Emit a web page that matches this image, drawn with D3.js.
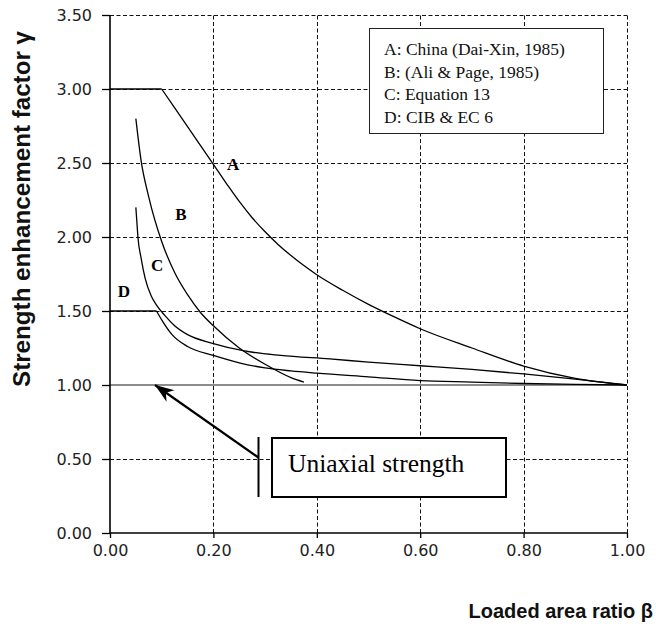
<!DOCTYPE html>
<html>
<head>
<meta charset="utf-8">
<script src="https://cdn.jsdelivr.net/npm/d3@7"></script>
<style>
  html, body { margin: 0; padding: 0; background: #fff; }
  svg { display: block; }
</style>
</head>
<body>
<div id="chart"></div>
<script>
// ---- data ----
const xTicks = [0, 0.2, 0.4, 0.6, 0.8, 1.0];
const yTicks = [0, 0.5, 1.0, 1.5, 2.0, 2.5, 3.0, 3.5];

// A: China (Dai-Xin, 1985)
const curveAFlat = [[0, 3.0], [0.1, 3.0]];
const curveA = [[0.1, 3.0], [0.15, 2.745], [0.2, 2.49], [0.225, 2.363], [0.25, 2.24], [0.275, 2.13],
  [0.3, 2.035], [0.325, 1.95], [0.35, 1.875], [0.375, 1.807], [0.4, 1.745], [0.45, 1.64],
  [0.5, 1.545], [0.55, 1.46], [0.6, 1.38], [0.7, 1.25], [0.8, 1.128], [0.9, 1.045], [1.0, 1.0]];
// B: (Ali & Page, 1985)
const curveB = [[0.05, 2.8], [0.06, 2.52], [0.075, 2.27], [0.1, 1.97], [0.125, 1.76], [0.15, 1.61],
  [0.175, 1.49], [0.2, 1.40], [0.25, 1.25], [0.3, 1.14], [0.35, 1.05], [0.375, 1.02]];
// C: Equation 13
const curveC = [[0.05, 2.2], [0.052, 2.1], [0.054, 2.0], [0.06, 1.86], [0.068, 1.72], [0.08, 1.6],
  [0.09, 1.54], [0.106, 1.47], [0.125, 1.40], [0.15, 1.34], [0.2, 1.28], [0.26, 1.23],
  [0.33, 1.20], [0.425, 1.176], [0.5, 1.155], [0.6, 1.13], [0.7, 1.105], [0.8, 1.075],
  [0.9, 1.04], [1.0, 1.0]];
// D: CIB & EC 6
const curveDFlat = [[0, 1.5], [0.09, 1.5]];
const curveD = [[0.09, 1.5], [0.1, 1.44], [0.12, 1.34], [0.15, 1.26], [0.2, 1.20], [0.25, 1.15],
  [0.3, 1.115], [0.35, 1.095], [0.4, 1.08], [0.5, 1.055], [0.6, 1.03], [0.7, 1.02],
  [0.8, 1.01], [0.9, 1.004], [1.0, 1.0]];

const curveLabels = [["A", 0.238, 2.48], ["B", 0.137, 2.14], ["C", 0.091, 1.80], ["D", 0.027, 1.62]];
const legendLines = ["A: China (Dai-Xin, 1985)", "B: (Ali & Page, 1985)", "C: Equation 13", "D: CIB & EC 6"];
const uniaxialLabel = "Uniaxial strength";
const uniaxialArrow = [[0.287, 0.51], [0.087, 1.0]];

// ---- chart ----
const W = 656, H = 628;
const svg = d3.select("#chart").append("svg").attr("width", W).attr("height", H);

const x = d3.scaleLinear().domain([0, 1]).range([110, 627]);
const y = d3.scaleLinear().domain([0, 3.5]).range([533, 15]);

const tickFont = "'DejaVu Sans', sans-serif";
const serif = "'Liberation Serif', 'Times New Roman', serif";
const px = v => Math.round(v) + 0.5;

// gridlines
const grid = svg.append("g");
grid.selectAll("line.h").data(yTicks.filter(v => v > 0 && v !== 1.0)).enter().append("line")
  .attr("x1", x(0)).attr("x2", x(1)).attr("y1", d => px(y(d))).attr("y2", d => px(y(d)))
  .attr("stroke", "#111").attr("stroke-width", 1).attr("stroke-dasharray", "4,2.5");
grid.selectAll("line.v").data(xTicks.filter(v => v > 0)).enter().append("line")
  .attr("x1", d => px(x(d))).attr("x2", d => px(x(d))).attr("y1", y(0)).attr("y2", y(3.5))
  .attr("stroke", "#111").attr("stroke-width", 1).attr("stroke-dasharray", "4,2.5");
// uniaxial reference line at 1.0
grid.append("line")
  .attr("x1", x(0)).attr("x2", x(1)).attr("y1", y(1)).attr("y2", y(1))
  .attr("stroke", "#666").attr("stroke-width", 1.6);

// axes
const yAxis = d3.axisLeft(y).tickValues(yTicks).tickSize(8).tickPadding(10)
  .tickFormat(d3.format(".2f"));
const gy = svg.append("g").attr("transform", `translate(${x(0)},0)`).call(yAxis);
const xAxis = d3.axisBottom(x).tickValues(xTicks).tickSize(5).tickPadding(7)
  .tickFormat(d3.format(".2f"));
const gx = svg.append("g").attr("transform", `translate(0,${y(0)})`).call(xAxis);
[gx, gy].forEach(g => {
  g.select(".domain").attr("stroke", "#000").attr("stroke-width", 1.6);
  g.selectAll(".tick line").attr("stroke", "#000").attr("stroke-width", 1.3);
  g.selectAll(".tick text").attr("fill", "#222").style("font-family", tickFont).style("font-size", "16px");
});
gy.select(".domain").attr("d", `M0,${y(3.5)}V${y(0)}`);
gx.select(".domain").attr("d", `M${x(0)},0H${x(1)}`);

// curves
const smooth = d3.line().x(d => x(d[0])).y(d => y(d[1])).curve(d3.curveMonotoneX);
const straight = d3.line().x(d => x(d[0])).y(d => y(d[1]));
const curves = svg.append("g").attr("fill", "none").attr("stroke", "#000").attr("stroke-width", 1.3);
[curveAFlat, curveDFlat].forEach(c => curves.append("path").attr("d", straight(c)));
[curveA, curveB, curveC, curveD].forEach(c => curves.append("path").attr("d", smooth(c)));

// curve labels
svg.append("g").selectAll("text").data(curveLabels).enter().append("text")
  .attr("x", d => x(d[1])).attr("y", d => y(d[2]))
  .attr("text-anchor", "middle").attr("dominant-baseline", "middle")
  .style("font-family", serif).style("font-weight", "bold").style("font-size", "17px")
  .text(d => d[0]);

// legend box
const lg = svg.append("g");
lg.append("rect").attr("x", 369.5).attr("y", 28.5).attr("width", 234).attr("height", 105)
  .attr("fill", "#fff").attr("stroke", "#222").attr("stroke-width", 1);
lg.selectAll("text").data(legendLines).enter().append("text")
  .attr("x", 384).attr("y", (d, i) => 55 + i * 22.5)
  .style("font-family", serif).style("font-size", "17.5px").attr("fill", "#111")
  .text(d => d);

// uniaxial strength annotation
const ua = svg.append("g");
ua.append("rect").attr("x", 272).attr("y", 438).attr("width", 234).attr("height", 59)
  .attr("fill", "#fff").attr("stroke", "#000").attr("stroke-width", 2);
ua.append("text").attr("x", 288).attr("y", 472)
  .style("font-family", serif).style("font-size", "25.5px").attr("fill", "#000")
  .text(uniaxialLabel);
ua.append("line").attr("x1", 258.5).attr("x2", 258.5).attr("y1", 437).attr("y2", 497)
  .attr("stroke", "#000").attr("stroke-width", 2);
ua.append("line")
  .attr("x1", x(uniaxialArrow[0][0])).attr("y1", y(uniaxialArrow[0][1]))
  .attr("x2", x(uniaxialArrow[1][0])).attr("y2", y(uniaxialArrow[1][1]))
  .attr("stroke", "#000").attr("stroke-width", 2.2);
(function () {
  const x1 = x(uniaxialArrow[0][0]), y1 = y(uniaxialArrow[0][1]);
  const x2 = x(uniaxialArrow[1][0]), y2 = y(uniaxialArrow[1][1]);
  const a = Math.atan2(y2 - y1, x2 - x1), L = 19, w = 7;
  const bx = x2 - L * Math.cos(a), by = y2 - L * Math.sin(a);
  const qx = -Math.sin(a) * w, qy = Math.cos(a) * w;
  ua.append("path").attr("d", `M${x2},${y2}L${bx + qx},${by + qy}L${x2 - 0.7 * L * Math.cos(a)},${y2 - 0.7 * L * Math.sin(a)}L${bx - qx},${by - qy}Z`)
    .attr("fill", "#000");
})();

// axis titles
svg.append("text").attr("transform", "translate(30,209) rotate(-90)")
  .attr("text-anchor", "middle")
  .attr("textLength", 356).attr("lengthAdjust", "spacingAndGlyphs")
  .style("font-family", "'Liberation Sans', Arial, sans-serif").style("font-size", "24px")
  .style("font-weight", "bold").attr("fill", "#111")
  .text("Strength enhancement factor γ");
svg.append("text").attr("x", 653).attr("y", 618).attr("text-anchor", "end")
  .style("font-family", "'Liberation Sans', Arial, sans-serif").style("font-size", "20px")
  .style("font-weight", "bold").attr("fill", "#111")
  .text("Loaded area ratio β");
</script>
</body>
</html>
